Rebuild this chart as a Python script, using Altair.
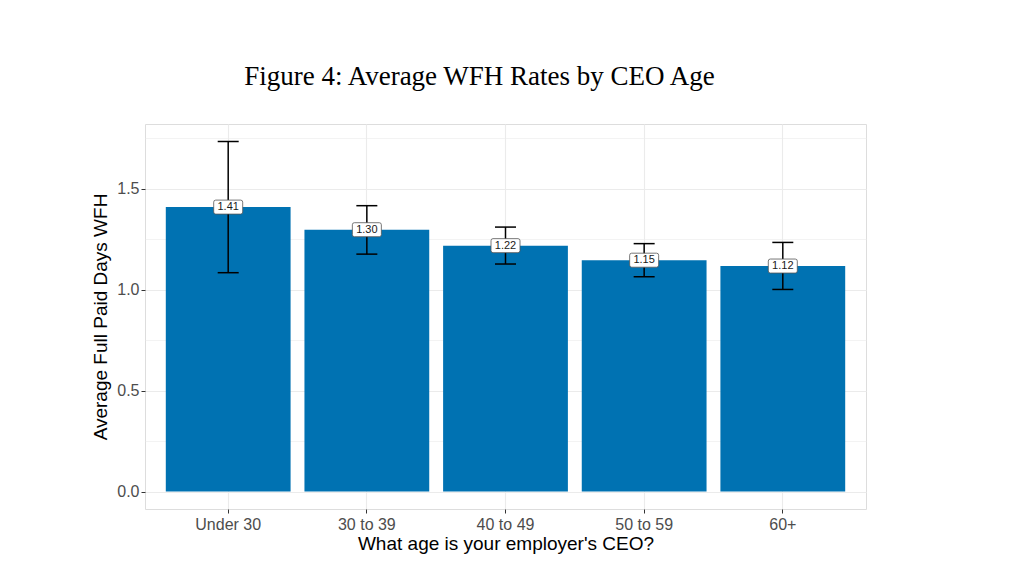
import altair as alt
import pandas as pd

# ---- data ----
ages = ["Under 30", "30 to 39", "40 to 49", "50 to 59", "60+"]
means = [1.409, 1.297, 1.218, 1.146, 1.117]
lowers = [1.084, 1.176, 1.127, 1.064, 1.001]
uppers = [1.734, 1.416, 1.310, 1.228, 1.234]
y_ticks = [0, 0.25, 0.5, 0.75, 1.0, 1.25, 1.5, 1.75]

df = pd.DataFrame({"age": ages, "mean": means, "lo": lowers, "hi": uppers})
df["label"] = [f"{v:.2f}" for v in means]

ymax = max(uppers)
pad = 0.05 * ymax
ydom = [0 - pad, ymax + pad]

FONT = "Liberation Sans"
YTITLE = "Average Full Paid Days WFH"
minor_test = "(datum.value * 4) % 2 == 1"

x_enc = alt.X(
    "age:N", sort=ages, title="What age is your employer's CEO?",
    scale=alt.Scale(paddingInner=0.1, paddingOuter=0.15),
    axis=alt.Axis(
        labelAngle=0, labelFontSize=16, labelColor="#4d4d4d", labelFont=FONT,
        titleFont=FONT, titleFontSize=19, titleColor="#000000", titleFontWeight="normal",
        tickSize=4, tickColor="#333333", tickWidth=1, labelPadding=3, titlePadding=2,
        domain=False, grid=True, gridColor="#ebebeb", gridWidth=1.1,
    ),
)


def y_enc(field):
    return alt.Y(
        field, title=YTITLE,
        scale=alt.Scale(domain=ydom, nice=False, zero=False),
        axis=alt.Axis(
            values=y_ticks,
            labelExpr=f"{minor_test} ? '' : format(datum.value, '.1f')",
            labelFontSize=16, labelColor="#4d4d4d", labelFont=FONT,
            titleFont=FONT, titleFontSize=19, titleColor="#000000", titleFontWeight="normal",
            tickSize=4, tickColor="#333333", tickWidth=1, labelPadding=2, titlePadding=6,
            tickOpacity={"condition": {"test": minor_test, "value": 0}, "value": 1},
            gridWidth={"condition": {"test": minor_test, "value": 0.6}, "value": 1.1},
            domain=False, grid=True, gridColor="#ebebeb",
        ),
    )


base = alt.Chart(df)

bars = base.mark_bar(color="#0072B2").encode(
    x=x_enc, y=y_enc("mean:Q"), y2=alt.datum(0)
)

rules = base.mark_rule(color="black", strokeWidth=1.5).encode(
    x=x_enc, y=y_enc("lo:Q"), y2="hi:Q"
)

caps_lo = base.mark_tick(color="black", thickness=1.5, size=21, opacity=1).encode(
    x=x_enc, y=y_enc("lo:Q")
)
caps_hi = base.mark_tick(color="black", thickness=1.5, size=21, opacity=1).encode(
    x=x_enc, y=y_enc("hi:Q")
)

BOX = ("M-0.86,-0.483 L0.86,-0.483 Q1,-0.483 1,-0.34 L1,0.34 Q1,0.483 0.86,0.483 "
       "L-0.86,0.483 Q-1,0.483 -1,0.34 L-1,-0.34 Q-1,-0.483 -0.86,-0.483 Z")

boxes = base.mark_point(
    shape=BOX, size=841, filled=True, fill="white", stroke="#555555",
    strokeWidth=0.8, opacity=1, fillOpacity=1, strokeOpacity=1,
).encode(x=x_enc, y=y_enc("mean:Q"))

labels = base.mark_text(
    font=FONT, fontSize=11, color="#1a1a1a", baseline="middle", align="center"
).encode(x=x_enc, y=y_enc("mean:Q"), text="label:N")

chart = (
    alt.layer(bars, rules, caps_lo, caps_hi, boxes, labels)
    .properties(
        width=721, height=385,
        autosize=alt.AutoSizeParams(type="none"),
        padding={"left": 137, "top": 116, "right": 150, "bottom": 45},
        title=alt.TitleParams(
            "Figure 4: Average WFH Rates by CEO Age",
            font="Liberation Serif", fontSize=27, fontWeight="normal", color="black",
            anchor="middle", dx=-26, offset=33,
        ),
    )
    .configure_view(stroke="#777777", strokeWidth=1)
    .configure(background="white")
)

chart.save("out.html", embed_options={"renderer": "svg", "actions": False})
